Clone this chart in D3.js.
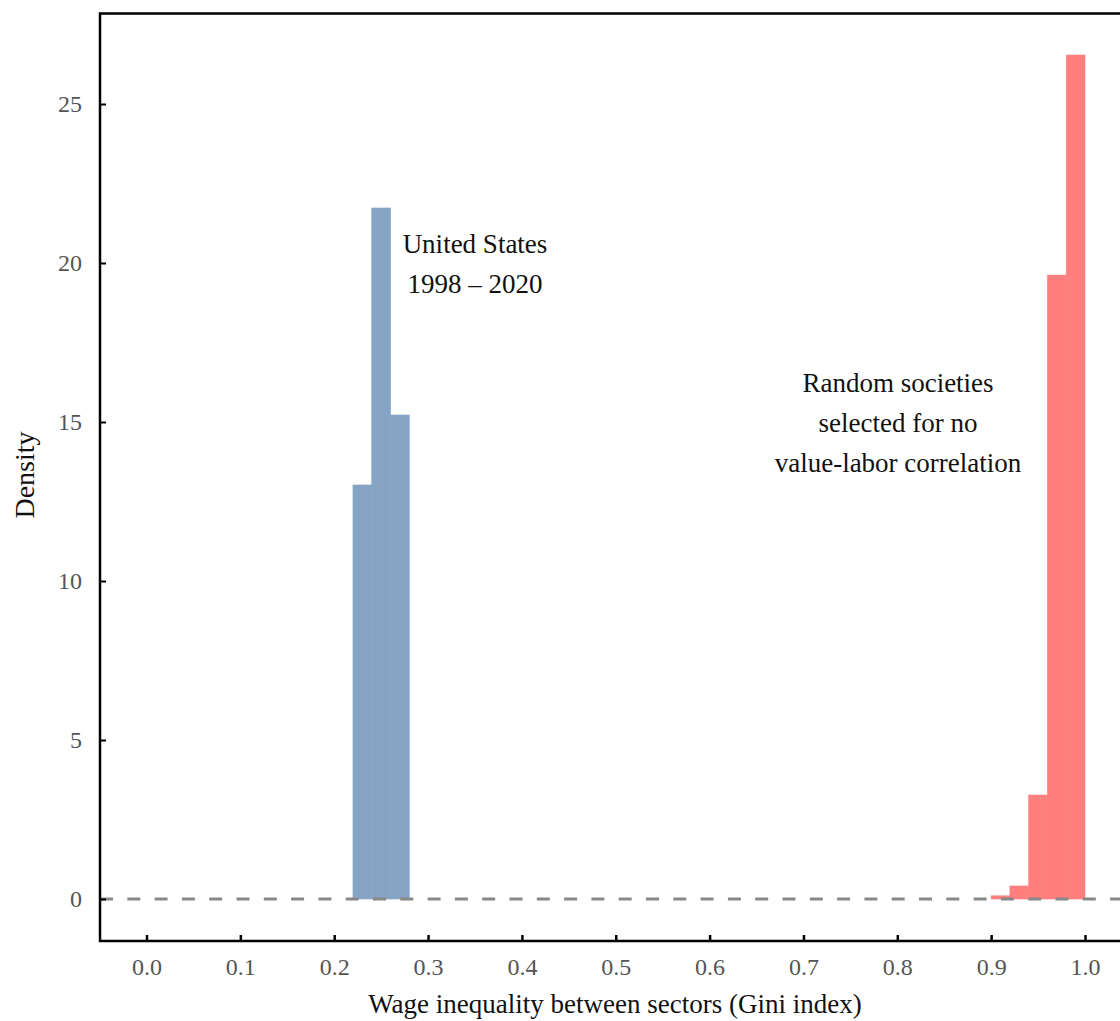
<!DOCTYPE html>
<html>
<head>
<meta charset="utf-8">
<script src="https://cdn.jsdelivr.net/npm/d3@7"></script>
<style>
  body { margin: 0; background: #fff; }
  svg text { font-family: "Liberation Serif", "DejaVu Serif", serif; }
</style>
</head>
<body>
<div id="chart"></div>
<script>
// histogram bins (left edge, density)
const binWidth = 0.02;
const usStarts = [0.22, 0.24, 0.26];
const usDensity = [13.02, 21.73, 15.22];
const randStarts = [0.90, 0.92, 0.94, 0.96, 0.98];
const randDensity = [0.10, 0.41, 3.27, 19.62, 26.54];
const xTicks = [0, 0.1, 0.2, 0.3, 0.4, 0.5, 0.6, 0.7, 0.8, 0.9, 1.0];
const yTicks = [0, 5, 10, 15, 20, 25];
const usLabel = ["United States", "1998 \u2013 2020"];
const randLabel = ["Random societies", "selected for no", "value-labor correlation"];

const W = 1120, H = 1021;
const frameLeft = 100, frameTop = 13.5, frameBottom = 941;

const svg = d3.select('#chart').append('svg')
  .attr('width', W).attr('height', H);

const x = d3.scaleLinear().domain([0, 1]).range([146.5, 1085]);
const y = d3.scaleLinear().domain([0, 25]).range([899, 104]);

// bars (thin same-colour stroke hides seams between neighbours)
function drawBars(starts, dens, color) {
  svg.append('g').selectAll('rect')
    .data(starts.map((s, i) => ({ s: s, d: dens[i] })))
    .enter().append('rect')
    .attr('x', d => x(d.s))
    .attr('width', d => x(d.s + binWidth) - x(d.s))
    .attr('y', d => y(d.d))
    .attr('height', d => y(0) - y(d.d))
    .attr('fill', color)
    .attr('stroke', color)
    .attr('stroke-width', 0.6);
}
drawBars(usStarts, usDensity, '#86a5c5');
drawBars(randStarts, randDensity, '#ff7f7f');

// dashed zero line
svg.append('line')
  .attr('x1', frameLeft).attr('x2', W)
  .attr('y1', y(0)).attr('y2', y(0))
  .attr('stroke', '#888')
  .attr('stroke-width', 3)
  .attr('stroke-dasharray', '13,14.3');

// frame: left, top, bottom lines
svg.append('path')
  .attr('d', `M${W},${frameTop}H${frameLeft}V${frameBottom}H${W}`)
  .attr('fill', 'none')
  .attr('stroke', '#000')
  .attr('stroke-width', 2.5);

// x axis ticks (inward) and labels
const xa = svg.append('g').attr('transform', `translate(0,${frameBottom})`)
  .call(d3.axisBottom(x).tickValues(xTicks).tickSize(-6).tickPadding(17)
    .tickFormat(d3.format('.1f')));
xa.select('.domain').remove();
xa.selectAll('line').attr('stroke', '#000').attr('stroke-width', 2.5);
xa.selectAll('text').attr('font-size', 24).attr('fill', '#555')
  .attr('font-family', '"Liberation Serif", serif');

// y axis ticks (inward) and labels
const ya = svg.append('g').attr('transform', `translate(${frameLeft},0)`)
  .call(d3.axisLeft(y).tickValues(yTicks).tickSize(-6).tickPadding(18));
ya.select('.domain').remove();
ya.selectAll('line').attr('stroke', '#000').attr('stroke-width', 2);
ya.selectAll('text').attr('font-size', 24).attr('fill', '#555')
  .attr('font-family', '"Liberation Serif", serif');

// axis titles
svg.append('text')
  .attr('x', 615).attr('y', 1013)
  .attr('text-anchor', 'middle')
  .attr('font-size', 27)
  .attr('fill', '#111')
  .text('Wage inequality between sectors (Gini index)');

svg.append('text')
  .attr('transform', 'translate(34,475) rotate(-90)')
  .attr('text-anchor', 'middle')
  .attr('font-size', 28)
  .attr('fill', '#111')
  .text('Density');

// annotations
function annotate(lines, cx, y0, gap) {
  svg.append('g').selectAll('text')
    .data(lines).enter().append('text')
    .attr('x', cx)
    .attr('y', (d, i) => y0 + i * gap)
    .attr('text-anchor', 'middle')
    .attr('font-size', 27)
    .attr('fill', '#111')
    .text(d => d);
}
annotate(usLabel, 475, 253, 40);
annotate(randLabel, 898, 392, 40);
</script>
</body>
</html>
